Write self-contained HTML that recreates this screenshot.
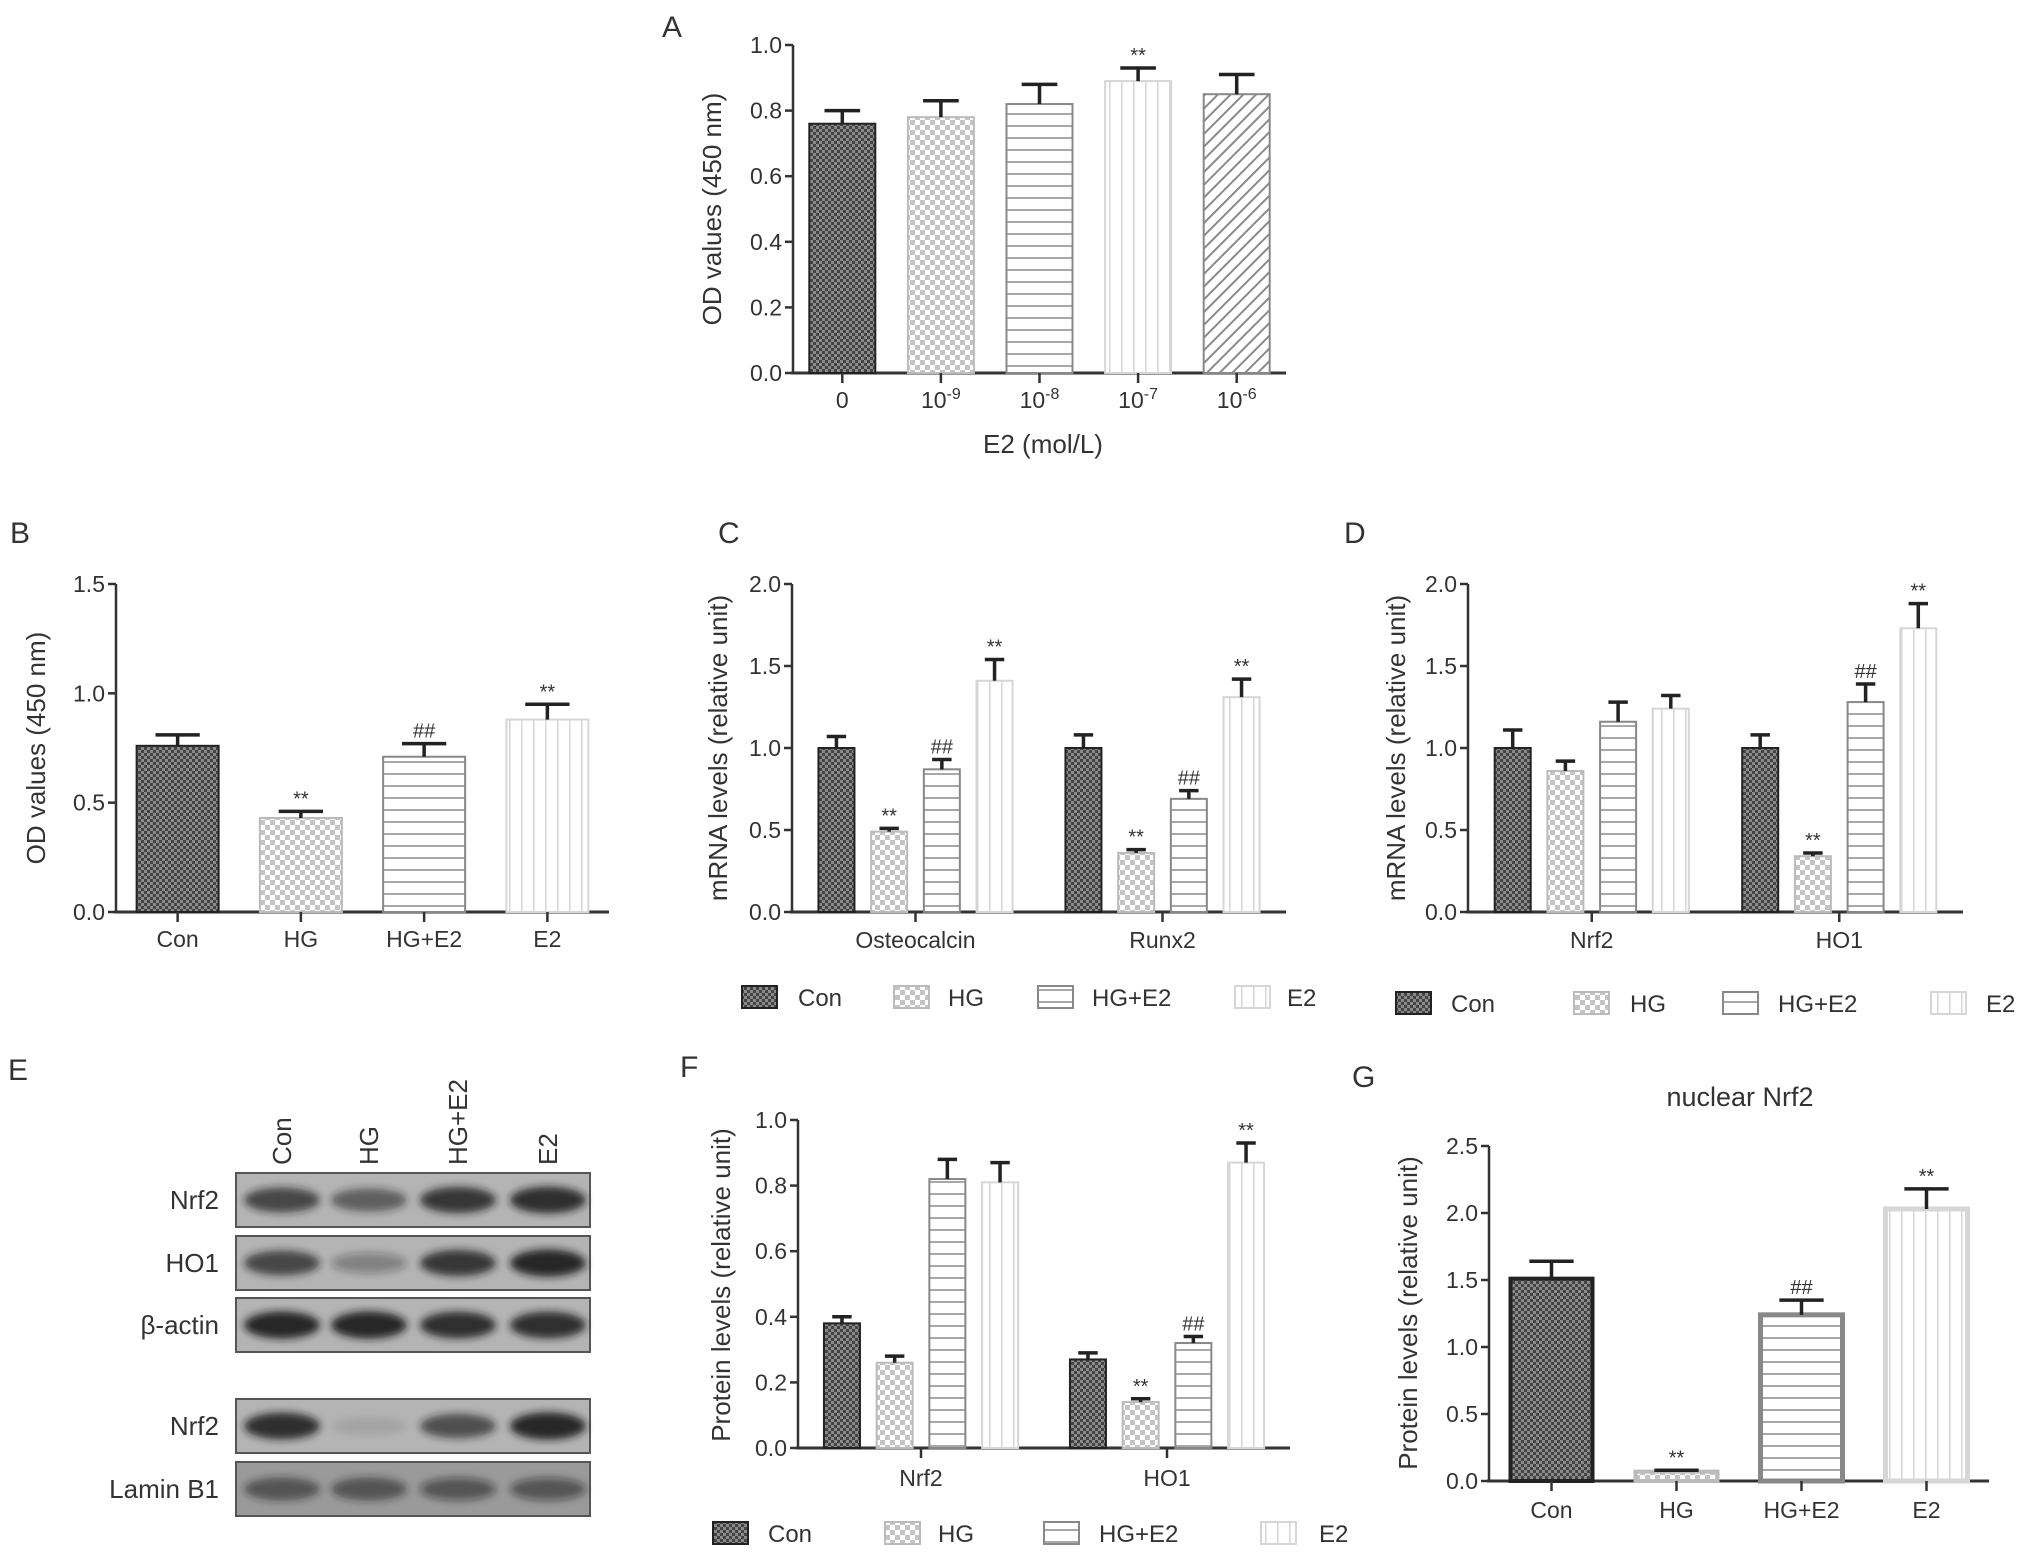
<!DOCTYPE html>
<html><head><meta charset="utf-8"><style>
html,body{margin:0;padding:0;background:#fff}
svg{display:block}
text{font-family:"Liberation Sans",sans-serif;fill:#333}
</style></head><body>
<svg id="fig" width="2031" height="1559" viewBox="0 0 2031 1559" xmlns="http://www.w3.org/2000/svg">
<defs>
<pattern id="pCon" width="6" height="6" patternUnits="userSpaceOnUse"><rect width="6" height="6" fill="#444"/><rect width="3" height="3" fill="#8a8a8a"/><rect x="3" y="3" width="3" height="3" fill="#8a8a8a"/></pattern>
<pattern id="pHG" width="10" height="10" patternUnits="userSpaceOnUse"><rect width="10" height="10" fill="#fff"/><rect width="5" height="5" fill="#c4c4c4"/><rect x="5" y="5" width="5" height="5" fill="#c4c4c4"/></pattern>
<pattern id="pHGE2" width="10" height="12" patternUnits="userSpaceOnUse"><rect width="10" height="12" fill="#fff"/><rect y="5" width="10" height="2" fill="#a8a8a8"/></pattern>
<pattern id="pE2" width="12" height="10" patternUnits="userSpaceOnUse"><rect width="12" height="10" fill="#fff"/><rect x="5" width="1.6" height="10" fill="#d8d8d8"/></pattern>
<pattern id="pDiag" width="9" height="9" patternUnits="userSpaceOnUse" patternTransform="rotate(45)"><rect width="9" height="9" fill="#fff"/><rect width="2" height="9" fill="#8a8a8a"/></pattern>
<filter id="blur" x="-20%" y="-50%" width="140%" height="200%"><feGaussianBlur stdDeviation="4"/></filter>
</defs>
</svg>
<script>
// ---------- Data ----------
const A_labels = ['0','10','10','10','10'];
const A_exps = ['','-9','-8','-7','-6'];
const A_values = [0.76,0.78,0.82,0.89,0.85];
const A_errors = [0.04,0.05,0.06,0.04,0.06];
const A_sig = ['','','','**',''];
const A_ticks = ['0.0','0.2','0.4','0.6','0.8','1.0'];

const B_cats = ['Con','HG','HG+E2','E2'];
const B_values = [0.76,0.43,0.71,0.88];
const B_errors = [0.05,0.03,0.06,0.07];
const B_sig = ['','**','##','**'];
const B_ticks = ['0.0','0.5','1.0','1.5'];

const C_groups = ['Osteocalcin','Runx2'];
const C_con = [1.00,1.00];
const C_hg = [0.49,0.36];
const C_hge2 = [0.87,0.69];
const C_e2 = [1.41,1.31];
const C_err_con = [0.07,0.08];
const C_err_hg = [0.02,0.02];
const C_err_hge2 = [0.06,0.05];
const C_err_e2 = [0.13,0.11];
const C_sig_hg = ['**','**'];
const C_sig_hge2 = ['##','##'];
const C_sig_e2 = ['**','**'];
const C_ticks = ['0.0','0.5','1.0','1.5','2.0'];

const D_groups = ['Nrf2','HO1'];
const D_con = [1.00,1.00];
const D_hg = [0.86,0.34];
const D_hge2 = [1.16,1.28];
const D_e2 = [1.24,1.73];
const D_err_con = [0.11,0.08];
const D_err_hg = [0.06,0.02];
const D_err_hge2 = [0.12,0.11];
const D_err_e2 = [0.08,0.15];
const D_sig_hg = ['','**'];
const D_sig_hge2 = ['','##'];
const D_sig_e2 = ['','**'];
const D_ticks = ['0.0','0.5','1.0','1.5','2.0'];

const F_groups = ['Nrf2','HO1'];
const F_con = [0.38,0.27];
const F_hg = [0.26,0.14];
const F_hge2 = [0.82,0.32];
const F_e2 = [0.81,0.87];
const F_err_con = [0.02,0.02];
const F_err_hg = [0.02,0.01];
const F_err_hge2 = [0.06,0.02];
const F_err_e2 = [0.06,0.06];
const F_sig_hg = ['','**'];
const F_sig_hge2 = ['','##'];
const F_sig_e2 = ['','**'];
const F_ticks = ['0.0','0.2','0.4','0.6','0.8','1.0'];

const G_cats = ['Con','HG','HG+E2','E2'];
const G_values = [1.51,0.07,1.24,2.03];
const G_errors = [0.13,0.01,0.11,0.15];
const G_sig = ['','**','##','**'];
const G_ticks = ['0.0','0.5','1.0','1.5','2.0','2.5'];

const series = ['Con','HG','HG+E2','E2'];
const E_lanes = ['Con','HG','HG+E2','E2'];
const E_rows = ['Nrf2','HO1','β-actin','Nrf2','Lamin B1'];
const E_intensity = [[0.75,0.6,0.85,0.9],[0.75,0.35,0.85,0.95],[0.95,0.95,0.9,0.9],[0.9,0.1,0.7,0.95],[0.6,0.6,0.55,0.55]];

// ---------- Helpers ----------
const svg = document.getElementById('fig');
const NS = 'http://www.w3.org/2000/svg';
function el(tag, attrs, parent){
  const e = document.createElementNS(NS, tag);
  for (const k in attrs) e.setAttribute(k, attrs[k]);
  (parent||svg).appendChild(e);
  return e;
}
function txt(str, x, y, size, anchor, parent){
  const t = el('text', {x:x, y:y, 'font-size':size, 'text-anchor':anchor||'middle'}, parent);
  t.textContent = str;
  return t;
}
const fills = ['url(#pCon)','url(#pHG)','url(#pHGE2)','url(#pE2)','url(#pDiag)'];
const strokes = ['#222','#bbb','#888','#d6d6d6','#888'];
const styleNames = ['con','hg','hg-e2','e2','e2-1e-6'];

function axes(g, ax, ticks){
  const yS = v => ax.yb - (v/ax.max)*(ax.yb-ax.yt);
  el('line',{x1:ax.x0,y1:ax.yt,x2:ax.x0,y2:ax.yb,stroke:'#333','stroke-width':2.5},g);
  el('line',{x1:ax.x0-2,y1:ax.yb,x2:ax.x1,y2:ax.yb,stroke:'#333','stroke-width':3},g);
  ticks.forEach(t=>{
    const y = yS(parseFloat(t));
    const tk = el('line',{x1:ax.x0-8,y1:y,x2:ax.x0,y2:y,stroke:'#333','stroke-width':2.5},g);
    
    
    const lb = txt(t, ax.x0-11, y+8, 23, 'end', g);
    
    
  });
  return yS;
}
function bar(g, cx, w, v, e, s, yS, sig, sw){
  const yb = yS(0), yt = yS(v);
  const r = el('rect',{x:cx-w/2,y:yt,width:w,height:yb-yt,fill:fills[s],stroke:strokes[s],'stroke-width':sw||2},g);
  
  
  const ye = yS(v+e);
  const eb = el('path',{d:`M${cx} ${yt} V${ye} M${cx-w*0.27} ${ye} H${cx+w*0.27}`,stroke:'#222','stroke-width':3.5,fill:'none'},g);
  
  
  if (sig){
    const st = txt(sig, cx, ye-6, 20, 'middle', g);
    st.setAttribute('fill','#666');
    
    
  }
}
function ytitle(g, str, x, y){
  const t = txt(str, 0, 0, 26, 'middle', g);
  t.setAttribute('transform',`translate(${x},${y}) rotate(-90)`);
  
  
}
function panelLabel(str,x,y){
  const t = txt(str,x,y,30,'start');
  t.setAttribute('fill','#111');
  
  
}
function simpleChart(name, ax, cats, vals, errs, sigs, ticks, bw, labelY, swFn){
  const g = el('g',{});
  
  
  const yS = axes(g, ax, ticks);
  const band = (ax.x1-ax.x0)/cats.length;
  cats.forEach((c,i)=>{
    const cx = ax.x0 + band*(i+0.5);
    bar(g, cx, bw, vals[i], errs[i], i, yS, sigs[i], swFn?swFn(i):2);
    el('line',{x1:cx,y1:ax.yb,x2:cx,y2:ax.yb+10,stroke:'#333','stroke-width':2.5},g);
    if (labelY){
      const l = txt(c, cx, labelY, 23, 'middle', g);
      
      
    }
  });
  return g;
}
function groupedChart(name, ax, groups, vals, errs, sigs, ticks, labelY){
  const g = el('g',{});
  
  
  const yS = axes(g, ax, ticks);
  const band = (ax.x1-ax.x0)/groups.length;
  const step = 52.7, bw = 36;
  groups.forEach((gr,i)=>{
    const c = ax.x0 + band*(i+0.5);
    for (let s=0;s<4;s++){
      const cx = c + (s-1.5)*step;
      bar(g, cx, bw, vals[s][i], errs[s][i], s, yS, sigs[s][i], 2);
    }
    el('line',{x1:c,y1:ax.yb,x2:c,y2:ax.yb+10,stroke:'#333','stroke-width':2.5},g);
    const l = txt(gr, c, labelY, 23, 'middle', g);
    
    
  });
  return g;
}
function legend(name, y, swX, txX){
  const g = el('g',{});
  
  
  series.forEach((s,i)=>{
    const r = el('rect',{x:swX[i],y:y-11,width:35,height:22,fill:fills[i],stroke:strokes[i],'stroke-width':2},g);
    
    
    const t = txt(s, txX[i], y+9, 24, 'start', g);
    
    
  });
}

// ---------- Panel A ----------
panelLabel('A',662,37);
const gA = simpleChart('chart-a',{x0:793,x1:1286,yt:45,yb:373,max:1.0},A_labels,A_values,A_errors,A_sig,A_ticks,66,null);
A_labels.forEach((l,i)=>{
  const cx = 793 + (493/5)*(i+0.5);
  const t = el('text',{x:cx,y:408,'font-size':23,'text-anchor':'middle'},gA);
  
  
  t.appendChild(document.createTextNode(l));
  if (A_exps[i]){
    const sp = document.createElementNS(NS,'tspan');
    sp.setAttribute('dy','-9'); sp.setAttribute('font-size','16');
    sp.textContent = A_exps[i];
    t.appendChild(sp);
  }
});
ytitle(gA,'OD values (450 nm)',721,209);
const xtA = txt('E2 (mol/L)',1043,453,26,'middle',gA);



// ---------- Panel B ----------
panelLabel('B',10,543);
const gB = simpleChart('chart-b',{x0:116,x1:609,yt:584,yb:912,max:1.5},B_cats,B_values,B_errors,B_sig,B_ticks,82,947);
ytitle(gB,'OD values (450 nm)',45,748);

// ---------- Panel C ----------
panelLabel('C',718,543);
const gC = groupedChart('chart-c',{x0:792,x1:1286,yt:584,yb:912,max:2.0},C_groups,
  [C_con,C_hg,C_hge2,C_e2],[C_err_con,C_err_hg,C_err_hge2,C_err_e2],[['',''],C_sig_hg,C_sig_hge2,C_sig_e2],C_ticks,948);
ytitle(gC,'mRNA levels (relative unit)',727,748);
legend('legend-c',997,[742,894,1038,1235],[798,948,1092,1287]);

// ---------- Panel D ----------
panelLabel('D',1344,543);
const gD = groupedChart('chart-d',{x0:1468,x1:1963,yt:584,yb:912,max:2.0},D_groups,
  [D_con,D_hg,D_hge2,D_e2],[D_err_con,D_err_hg,D_err_hge2,D_err_e2],[['',''],D_sig_hg,D_sig_hge2,D_sig_e2],D_ticks,948);
ytitle(gD,'mRNA levels (relative unit)',1405,748);
legend('legend-d',1003,[1396,1574,1723,1931],[1451,1630,1778,1986]);

// ---------- Panel E (western blot) ----------
panelLabel('E',8,1080);
const gE = el('g',{});


const laneX = [282,369,458,548];
const rowY = [1173,1236,1298,1399,1462];
E_lanes.forEach((l,i)=>{
  const t = txt(l,0,0,26,'start',gE);
  t.setAttribute('transform',`translate(${laneX[i]+9},1165) rotate(-90)`);
  t.setAttribute('fill','#111');
  
  
});
E_rows.forEach((r,j)=>{
  const y = rowY[j];
  const bg = el('rect',{x:236,y:y,width:354,height:54,fill:j===4?'#9a9a9a':'#b4b4b4',stroke:'#555','stroke-width':2},gE);
  
  
  E_intensity[j].forEach((v,i)=>{
    const b = el('ellipse',{cx:laneX[i],cy:y+27,rx:38,ry:8+v*6,fill:'#1a1a1a','fill-opacity':v*0.95,filter:'url(#blur)'},gE);
    
    
  });
  const t = txt(r,219,y+36,26,'end',gE);
  t.setAttribute('fill','#111');
  
  
});

// ---------- Panel F ----------
panelLabel('F',680,1077);
const gF = groupedChart('chart-f',{x0:798,x1:1290,yt:1120,yb:1448,max:1.0},F_groups,
  [F_con,F_hg,F_hge2,F_e2],[F_err_con,F_err_hg,F_err_hge2,F_err_e2],[['',''],F_sig_hg,F_sig_hge2,F_sig_e2],F_ticks,1486);
ytitle(gF,'Protein levels (relative unit)',730,1285);
legend('legend-f',1533,[713,885,1044,1261],[768,938,1099,1319]);

// ---------- Panel G ----------
panelLabel('G',1352,1087);
const gG = simpleChart('chart-g',{x0:1489,x1:1989,yt:1146,yb:1481,max:2.5},G_cats,G_values,G_errors,G_sig,G_ticks,82,1518,i=>[4,4,5,5][i]);
ytitle(gG,'Protein levels (relative unit)',1417,1313);
const gt = txt('nuclear Nrf2',1740,1106,27,'middle',gG);


</script>
</body></html>
